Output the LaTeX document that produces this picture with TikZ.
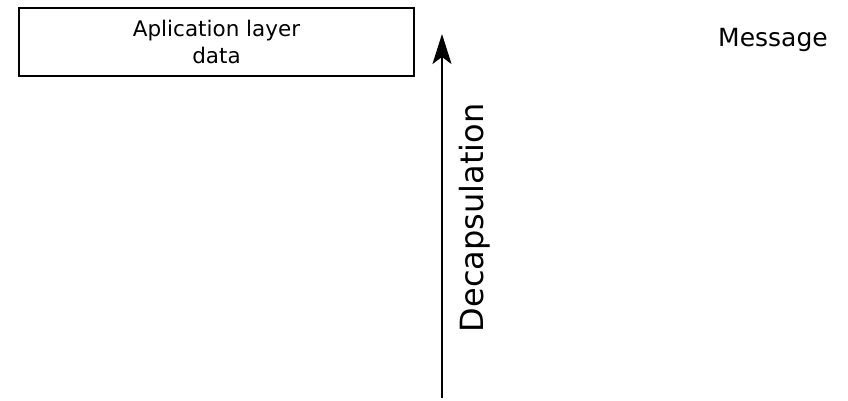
\documentclass[tikz,border=0pt]{standalone}
\usepackage{fontspec}
\setmainfont{DejaVu Sans}
\usetikzlibrary{arrows.meta}
\begin{document}
\begin{tikzpicture}[x=1pt,y=-1pt,
  databox/.style={draw, line width=2pt, minimum width=395pt, minimum height=68pt,
    inner sep=0pt, align=center, font=\fontsize{21.5}{27}\selectfont},
  flowarrow/.style={line width=1.6pt, -{Stealth[length=30pt,width=19pt,inset=7pt]}},
  sidelabel/.style={font=\fontsize{32}{36}\selectfont, inner sep=0pt},
  tag/.style={font=\fontsize{25}{28}\selectfont, inner sep=0pt}]
  \useasboundingbox (0,0) rectangle (848,401);
  % application data block
  \node[databox] (app) at (216.5,42) {Aplication layer\\data};
  % upward decapsulation arrow
  \coordinate (low) at (442,398);
  \coordinate (high) at (442,34);
  \draw[flowarrow] (low) -- (high);
  \node[sidelabel, rotate=90, anchor=base] (decap) at (483,218) {Decapsulation};
  % layer name
  \node[tag, anchor=base west] (msg) at (718,47) {Message};
\end{tikzpicture}
\end{document}
